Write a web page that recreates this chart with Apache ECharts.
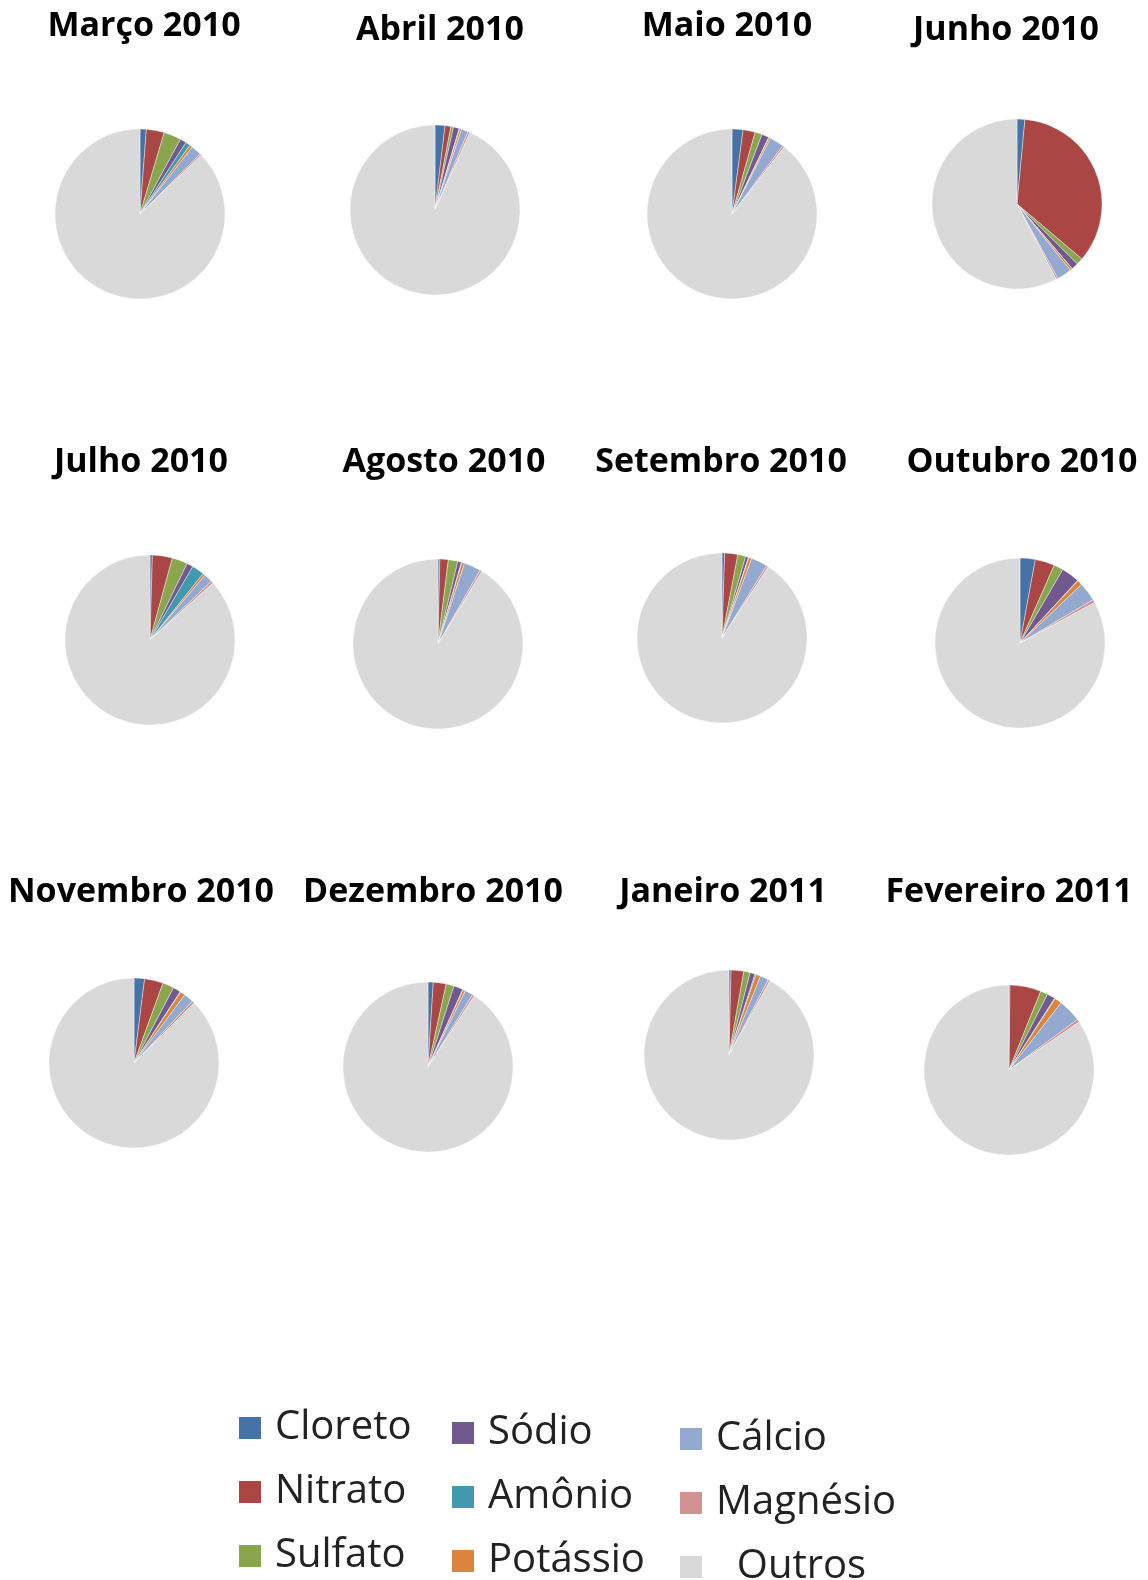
<!DOCTYPE html>
<html>
<head>
<meta charset="utf-8">
<script src="https://cdn.jsdelivr.net/npm/echarts@6/dist/echarts.min.js"></script>
<style>
    html, body { margin: 0; padding: 0; background: #fff; }
    #chart { width: 1148px; height: 1580px; }
</style>
</head>
<body>
<div id="chart"></div>
<script>
    // meses (um gráfico de pizza por mês)
    const months = ['Março 2010', 'Abril 2010', 'Maio 2010', 'Junho 2010',
        'Julho 2010', 'Agosto 2010', 'Setembro 2010', 'Outubro 2010',
        'Novembro 2010', 'Dezembro 2010', 'Janeiro 2011', 'Fevereiro 2011']

    const categories = ['Cloreto', 'Nitrato', 'Sulfato', 'Sódio', 'Amônio', 'Potássio', 'Cálcio', 'Magnésio', 'Outros']

    // valores (%)
    const cloreto  = [1.2, 1.9, 2.1, 1.5, 0.45, 0.35, 0.5, 2.9, 2.0, 1.0, 0.4, 0.2]
    const nitrato  = [3.4, 1.1, 2.3, 34.7, 3.8, 1.6, 2.5, 3.7, 3.55, 2.45, 2.4, 5.9]
    const sulfato  = [3.3, 0.5, 1.35, 1.25, 2.95, 1.8, 1.5, 1.8, 2.15, 1.5, 1.2, 1.4]
    const sodio    = [1.2, 1.1, 1.35, 1.3, 1.2, 0.7, 0.55, 3.45, 1.45, 1.75, 0.95, 1.5]
    const amonio   = [0.9, 0.1, 0.1, 0.05, 2.35, 0.1, 0.1, 0.1, 0.1, 0.1, 0.2, 0.15]
    const potassio = [0.55, 0.35, 0.3, 0.4, 0.45, 0.5, 0.55, 0.95, 0.95, 0.45, 0.9, 1.35]
    const calcio   = [2.0, 1.3, 2.7, 2.8, 1.65, 3.2, 3.1, 3.6, 1.85, 1.55, 1.6, 4.4]
    const magnesio = [0.3, 0.4, 0.35, 0.35, 0.45, 0.4, 0.4, 0.6, 0.45, 0.4, 0.4, 0.55]
    const outros   = [87.15, 93.25, 89.45, 57.65, 86.7, 91.35, 90.8, 82.9, 87.5, 90.8, 91.95, 84.55]

    const colors = ['#4572A7', '#AA4643', '#89A54E', '#71588F', '#4198AF', '#DB843D', '#93A9CF', '#D19392', '#D9D9D9']

    // posição de cada pizza e de cada título
    const pieCenters = [[140, 214], [435, 210], [732, 214], [1017, 204],
        [150, 640], [438, 644], [722, 638], [1020, 643],
        [134, 1063], [428, 1067], [729, 1055], [1009, 1070]]
    const titlePos = [[144, 25], [440, 29], [727, 25], [1006, 29],
        [141, 461], [444, 461], [721, 461], [1022, 461],
        [141, 891], [433, 891], [723, 891], [1009, 891]]

    const seriesValues = [cloreto, nitrato, sulfato, sodio, amonio, potassio, calcio, magnesio, outros]

    let myChart = echarts.init(document.getElementById('chart'))

    let titles = months.map((m, i) => ({
        text: m,
        left: titlePos[i][0],
        top: titlePos[i][1] - 16,
        padding: 0,
        textAlign: 'center',
        textStyle: {
            fontFamily: 'Open Sans',
            fontWeight: 'bold',
            fontSize: 34,
            color: '#000'
        }
    }))

    let series = months.map((m, i) => ({
        type: 'pie',
        name: m,
        center: pieCenters[i],
        radius: 85,
        startAngle: 90,
        clockwise: true,
        label: { show: false },
        labelLine: { show: false },
        emphasis: { disabled: true },
        itemStyle: { borderColor: '#fff', borderWidth: 0.4 },
        data: categories.map((c, k) => ({
            name: c,
            value: seriesValues[k][i],
            itemStyle: { color: colors[k] }
        }))
    }))

    const legendStyle = {
        orient: 'vertical',
        icon: 'rect',
        itemWidth: 24,
        itemHeight: 24,
        itemGap: 24,
        padding: 0,
        height: 250,
        selectedMode: false,
        textStyle: {
            fontFamily: 'Open Sans',
            fontSize: 40,
            color: '#222',
            padding: [0, 0, 0, 8]
        }
    }

    let option = {
        animation: false,
        backgroundColor: '#fff',
        color: colors,
        title: titles,
        legend: [
            Object.assign({ data: categories.slice(0, 3), left: 237, top: 1408 }, legendStyle),
            Object.assign({ data: categories.slice(3, 6), left: 450, top: 1413 }, legendStyle),
            Object.assign({
                data: categories.slice(6, 9), left: 678, top: 1419,
                formatter: (name) => name === 'Outros' ? '  ' + name : name
            }, legendStyle)
        ],
        series: series
    }

    myChart.setOption(option)
</script>
</body>
</html>
